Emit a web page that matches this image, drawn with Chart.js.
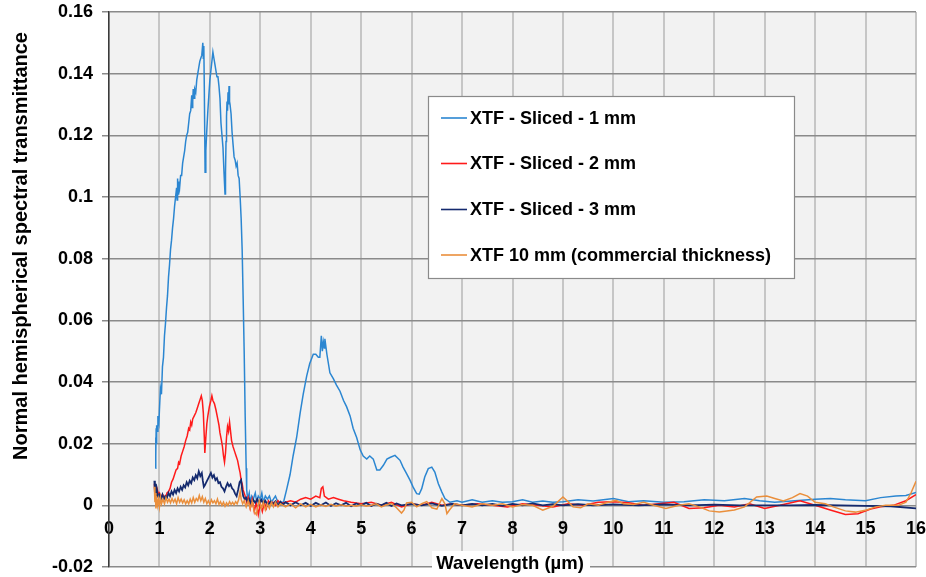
<!DOCTYPE html>
<html>
<head>
<meta charset="utf-8">
<script src="https://cdn.jsdelivr.net/npm/chart.js@4.4.1/dist/chart.umd.min.js"></script>
<style>
  body { margin: 0; background: #fff; }
  #chart { display: block; }
</style>
</head>
<body>
<canvas id="chart" width="926" height="577"></canvas>
<script>
// 数据：[波长 µm, 透射率]
const seriesLabels = [
  'XTF - Sliced - 1 mm',
  'XTF - Sliced - 2 mm',
  'XTF - Sliced - 3 mm',
  'XTF 10 mm (commercial thickness)'
];
const seriesColors = ['#2b86d1', '#ff1a1a', '#142a6e', '#ea8f3c'];

const sliced1mm = [
  [0.92,0.012],[0.925,0.022],[0.93,0.016],[0.935,0.025],[0.94,0.020],[0.95,0.026],[0.96,0.024],[0.97,0.029],
  [0.99,0.027],[1.00,0.031],[1.02,0.038],[1.04,0.036],[1.06,0.045],[1.08,0.048],[1.10,0.055],[1.12,0.059],
  [1.14,0.064],[1.16,0.068],[1.18,0.074],[1.20,0.078],[1.22,0.083],[1.24,0.086],[1.26,0.090],[1.28,0.093],
  [1.30,0.097],[1.32,0.100],[1.34,0.103],[1.35,0.099],[1.36,0.106],[1.37,0.101],[1.38,0.105],[1.40,0.103],
  [1.42,0.107],[1.44,0.107],[1.46,0.111],[1.48,0.113],[1.50,0.115],[1.52,0.118],[1.54,0.120],[1.56,0.121],
  [1.58,0.124],[1.60,0.127],[1.62,0.128],[1.64,0.133],[1.65,0.129],[1.66,0.131],[1.67,0.135],[1.69,0.132],
  [1.70,0.135],[1.72,0.134],[1.74,0.138],[1.76,0.140],[1.78,0.142],[1.80,0.144],[1.82,0.145],[1.84,0.146],
  [1.86,0.150],[1.87,0.145],[1.88,0.149],[1.89,0.135],[1.905,0.108],[1.92,0.115],[1.94,0.122],[1.96,0.128],
  [1.98,0.133],[2.00,0.138],[2.02,0.141],[2.04,0.144],[2.06,0.147],[2.08,0.145],[2.10,0.143],[2.12,0.141],
  [2.14,0.139],[2.16,0.139],[2.18,0.136],[2.20,0.132],[2.22,0.124],[2.24,0.120],[2.26,0.116],[2.28,0.108],
  [2.30,0.101],[2.31,0.108],[2.32,0.118],[2.33,0.126],[2.34,0.131],[2.35,0.128],[2.36,0.134],[2.37,0.130],
  [2.38,0.136],[2.39,0.131],[2.40,0.130],[2.42,0.127],[2.44,0.121],[2.46,0.117],[2.48,0.113],[2.50,0.112],
  [2.52,0.110],[2.54,0.111],[2.56,0.107],[2.58,0.106],[2.60,0.100],[2.62,0.093],[2.64,0.083],[2.66,0.067],
  [2.68,0.050],[2.70,0.029],[2.72,0.012],[2.73,0.005],[2.75,0.002],[2.78,0.004],[2.80,0.001],[2.83,0.003],
  [2.86,0.002],[2.90,0.004],[2.93,0.001],[2.96,0.003],[3.00,0.002],[3.03,0.004],[3.06,0.001],[3.10,0.003],
  [3.14,0.002],[3.18,0.003],[3.22,0.001],[3.26,0.002],[3.30,0.003],[3.35,0.001],[3.40,0.001],[3.46,0.001],
  [3.52,0.005],[3.59,0.010],[3.65,0.016],[3.72,0.022],[3.79,0.030],[3.85,0.036],[3.92,0.042],[3.98,0.046],
  [4.05,0.049],[4.10,0.049],[4.15,0.048],[4.18,0.048],[4.21,0.055],[4.23,0.050],[4.25,0.053],[4.27,0.051],
  [4.28,0.054],[4.32,0.049],[4.38,0.043],[4.45,0.041],[4.51,0.039],[4.58,0.037],[4.65,0.034],[4.71,0.032],
  [4.78,0.029],[4.84,0.025],[4.91,0.022],[4.98,0.018],[5.04,0.016],[5.11,0.015],[5.17,0.016],[5.24,0.015],
  [5.31,0.0115],[5.37,0.0115],[5.44,0.013],[5.51,0.015],[5.57,0.0155],[5.67,0.0162],[5.77,0.0146],[5.83,0.0124],
  [5.90,0.0103],[5.97,0.0081],[6.03,0.0059],[6.10,0.0038],[6.15,0.0036],[6.20,0.0054],[6.26,0.0092],[6.33,0.0119],
  [6.40,0.0124],[6.46,0.0108],[6.53,0.007],[6.60,0.0043],[6.66,0.0022],[6.76,0.001],[6.9,0.0015],[7.0,0.001],
  [7.2,0.0018],[7.4,0.001],[7.6,0.0015],[7.8,0.001],[8.0,0.0012],[8.2,0.0018],[8.4,0.001],[8.6,0.0014],
  [8.8,0.001],[9.0,0.0012],[9.3,0.0018],[9.6,0.0014],[10.0,0.0022],[10.3,0.0012],[10.6,0.0015],[11.0,0.001],
  [11.4,0.0012],[11.8,0.0018],[12.2,0.0015],[12.6,0.0022],[12.9,0.0015],[13.2,0.001],[13.6,0.0015],[14.0,0.002],
  [14.3,0.0022],[14.6,0.0018],[15.0,0.0015],[15.3,0.0025],[15.6,0.003],[15.8,0.0032],[16.0,0.0042]
];

const sliced2mm = [
  [0.90,0.007],[0.91,0.004],[0.92,0.006],[0.94,0.003],[0.96,0.005],[0.98,0.0035],[1.00,0.004],[1.03,0.0025],
  [1.06,0.0035],[1.09,0.003],[1.12,0.0025],[1.15,0.004],[1.18,0.0045],[1.21,0.0055],[1.24,0.0075],[1.27,0.0085],
  [1.30,0.010],[1.33,0.0115],[1.36,0.012],[1.38,0.014],[1.40,0.0135],[1.43,0.016],[1.46,0.0175],[1.49,0.019],
  [1.52,0.021],[1.55,0.0225],[1.58,0.025],[1.60,0.0245],[1.62,0.027],[1.64,0.026],[1.66,0.028],[1.69,0.029],
  [1.72,0.030],[1.75,0.0315],[1.78,0.033],[1.81,0.0345],[1.83,0.0355],[1.85,0.034],[1.87,0.030],[1.89,0.022],
  [1.90,0.017],[1.92,0.022],[1.94,0.0265],[1.96,0.029],[1.99,0.032],[2.02,0.034],[2.04,0.0355],[2.06,0.034],
  [2.09,0.033],[2.12,0.031],[2.15,0.0285],[2.18,0.026],[2.20,0.0235],[2.23,0.021],[2.25,0.019],[2.27,0.016],
  [2.29,0.014],[2.31,0.017],[2.33,0.022],[2.35,0.0255],[2.37,0.024],[2.39,0.027],[2.41,0.024],[2.43,0.021],
  [2.46,0.019],[2.49,0.0175],[2.52,0.016],[2.55,0.0145],[2.58,0.012],[2.60,0.0105],[2.62,0.008],[2.64,0.007],
  [2.66,0.005],[2.70,0.003],[2.73,0.001],[2.76,0.0025],[2.80,-0.001],[2.84,0.002],[2.88,-0.002],[2.92,0.001],
  [2.96,-0.003],[3.00,0.0005],[3.04,-0.002],[3.08,0.001],[3.12,-0.001],[3.16,0.0015],[3.20,0.0005],[3.25,0.001],
  [3.30,0],[3.35,0.0015],[3.40,0.0005],[3.50,0.001],[3.60,0.0015],[3.70,0.001],[3.80,0.002],[3.90,0.0025],
  [4.00,0.002],[4.10,0.003],[4.18,0.0025],[4.21,0.0055],[4.24,0.006],[4.27,0.003],[4.35,0.002],[4.45,0.0025],
  [4.55,0.002],[4.65,0.0015],[4.80,0.001],[5.00,0.0005],[5.20,0.001],[5.40,0],[5.60,0.001],[5.80,-0.0005],
  [6.00,0.0005],[6.20,0],[6.40,0.001],[6.60,0],[6.80,0.0005],[7.0,0],[7.3,0.0005],[7.6,0],
  [7.9,-0.0005],[8.2,0.0005],[8.5,0],[8.8,-0.0005],[9.1,0.0005],[9.4,0],[9.7,0.001],[10.0,0.0012],
  [10.3,0.0008],[10.6,0],[10.9,0.0005],[11.2,0.001],[11.5,-0.001],[11.8,-0.0008],[12.1,0],[12.4,-0.0005],
  [12.7,0.0005],[13.0,-0.001],[13.3,0],[13.7,0.0015],[14.0,0],[14.3,-0.0015],[14.6,-0.003],[14.85,-0.0027],
  [15.1,-0.0012],[15.3,-0.0005],[15.55,0],[15.8,0.0015],[16.0,0.0035]
];

const sliced3mm = [
  [0.90,0.008],[0.91,0.004],[0.92,0.007],[0.93,0.003],[0.95,0.005],[0.97,0.003],[1.00,0.0035],[1.03,0.002],
  [1.06,0.0035],[1.09,0.002],[1.12,0.003],[1.15,0.0025],[1.18,0.004],[1.21,0.003],[1.24,0.0045],[1.27,0.0035],
  [1.30,0.005],[1.33,0.004],[1.36,0.0055],[1.39,0.0045],[1.42,0.006],[1.45,0.005],[1.48,0.0065],[1.51,0.0058],
  [1.54,0.0075],[1.57,0.0065],[1.60,0.008],[1.63,0.0072],[1.66,0.009],[1.69,0.0082],[1.72,0.0098],[1.75,0.0088],
  [1.78,0.011],[1.81,0.0095],[1.84,0.0105],[1.86,0.008],[1.88,0.006],[1.90,0.0065],[1.93,0.0075],[1.96,0.0085],
  [1.99,0.0095],[2.02,0.0105],[2.05,0.009],[2.08,0.0098],[2.11,0.0082],[2.14,0.0088],[2.17,0.0072],[2.20,0.0075],
  [2.23,0.006],[2.26,0.0055],[2.29,0.0045],[2.32,0.006],[2.35,0.0072],[2.38,0.0062],[2.41,0.0068],[2.44,0.0055],
  [2.47,0.005],[2.50,0.0038],[2.53,0.003],[2.56,0.005],[2.59,0.0075],[2.62,0.0082],[2.64,0.005],[2.66,0.003],
  [2.69,0.002],[2.72,0.0025],[2.75,0.001],[2.78,0.002],[2.82,0.0005],[2.86,0.0018],[2.90,0.0008],[2.94,0.002],
  [2.98,0.0005],[3.02,0.0018],[3.06,0.0005],[3.10,0.0015],[3.15,0],[3.20,0.0012],[3.25,0.0003],[3.30,0.0013],
  [3.35,0],[3.40,0.0012],[3.45,0.0002],[3.5,0.001],[3.6,0],[3.7,0.001],[3.8,0],[3.9,0.0008],
  [4.0,-0.0002],[4.1,0.0008],[4.2,0],[4.3,0.0009],[4.4,-0.0002],[4.5,0.0007],[4.6,0],[4.7,0.0008],
  [4.8,-0.0003],[4.9,0.0006],[5.0,0],[5.1,0.0008],[5.2,-0.0002],[5.3,0.0005],[5.4,0],[5.5,0.0008],
  [5.6,-0.0002],[5.7,0.0006],[5.8,0],[6.0,0.0005],[6.2,0],[6.4,0.0006],[6.6,-0.0002],[6.8,0.0005],
  [7.0,0],[7.2,0.0005],[7.4,0],[7.6,0.0005],[7.8,-0.0002],[8.0,0.0005],[8.2,0],[8.4,0.0006],
  [8.6,0],[8.8,0.0004],[9.0,0],[9.3,0.0004],[9.6,0],[10,0.0003],[10.5,0],[11,0.0003],
  [11.5,0],[12,0.0002],[12.5,0],[13,0],[13.5,0],[14,0.0001],[14.5,0],[15,-0.0002],
  [15.5,-0.0003],[16,-0.001]
];

const commercial10mm = [
  [0.90,0.006],[0.91,0.001],[0.92,0.004],[0.93,-0.001],[0.94,0.003],[0.96,0.000],[0.98,0.002],[1.00,-0.0005],
  [1.02,0.0025],[1.04,0.0005],[1.07,0.002],[1.10,0.0005],[1.13,0.0025],[1.16,0.001],[1.19,0.002],[1.22,0.0008],
  [1.25,0.0022],[1.28,0.001],[1.31,0.002],[1.34,0.0005],[1.37,0.0025],[1.40,0.001],[1.43,0.002],[1.46,0.0008],
  [1.49,0.0018],[1.52,0.0005],[1.55,0.0015],[1.58,0.0005],[1.61,0.002],[1.64,0.0008],[1.67,0.0025],[1.70,0.001],
  [1.73,0.0022],[1.76,0.0015],[1.79,0.0032],[1.82,0.0015],[1.85,0.0028],[1.88,0.001],[1.91,0.0022],[1.94,0.0005],
  [1.97,0.0015],[2.00,0.0003],[2.03,0.0018],[2.06,0.0008],[2.09,0.0015],[2.12,0.0005],[2.15,0.002],[2.18,0.0003],
  [2.21,0.0012],[2.24,0],[2.27,0.001],[2.30,-0.0003],[2.33,0.0008],[2.36,0],[2.39,0.0012],[2.42,0.0003],
  [2.45,0.001],[2.48,0.0002],[2.51,0.0012],[2.54,0.0005],[2.57,0.0018],[2.60,0.0045],[2.62,0.002],[2.65,0.0005],
  [2.68,0.0015],[2.72,-0.0005],[2.76,0.0015],[2.80,-0.001],[2.84,0.0012],[2.88,-0.002],[2.92,-0.003],[2.95,-0.0005],
  [2.98,0.0015],[3.02,-0.001],[3.06,0.001],[3.10,-0.0015],[3.14,0.0005],[3.18,-0.001],[3.22,0.001],[3.26,-0.0005],
  [3.30,0.001],[3.35,-0.0005],[3.40,0.0005],[3.5,-0.0005],[3.6,0.0005],[3.7,-0.0008],[3.8,0.0005],[3.9,-0.0005],
  [4.0,0.0003],[4.1,-0.0005],[4.2,0.0002],[4.3,-0.0004],[4.4,0.0003],[4.5,-0.0003],[4.6,0.0002],[4.7,-0.0003],
  [4.8,0],[4.9,-0.0003],[5.0,0.0002],[5.1,-0.0003],[5.2,0],[5.3,0.0005],[5.4,-0.0005],[5.5,0.0002],
  [5.6,0.0006],[5.7,-0.0008],[5.8,-0.0025],[5.85,-0.0015],[5.9,0.0008],[6.0,0.001],[6.1,-0.0005],[6.2,0.0005],
  [6.3,0.0012],[6.4,-0.0008],[6.5,-0.0012],[6.6,0.0022],[6.66,0.0005],[6.7,-0.0027],[6.75,-0.0015],[6.85,0.0005],
  [7.0,0],[7.2,-0.0005],[7.4,0.0005],[7.6,0],[7.8,0.0005],[8.0,-0.0005],[8.2,0.0003],[8.4,0],
  [8.6,-0.0016],[8.8,-0.0003],[9.0,0.0027],[9.1,0.0012],[9.2,-0.0005],[9.35,-0.0008],[9.5,0.0005],[9.7,0],
  [9.9,0.001],[10.05,0.0016],[10.2,0.0005],[10.4,0.0003],[10.6,0.001],[10.8,0],[11.04,-0.001],[11.3,0],
  [11.5,0.0005],[11.7,-0.0005],[11.9,-0.0018],[12.1,-0.0022],[12.4,-0.0015],[12.6,-0.0005],[12.84,0.0027],[13.04,0.003],
  [13.2,0.0022],[13.37,0.0014],[13.55,0.0025],[13.7,0.0038],[13.85,0.003],[14.0,0.001],[14.2,0.0005],[14.36,-0.0005],
  [14.6,-0.0018],[14.8,-0.0022],[15.02,-0.0015],[15.2,-0.0005],[15.4,0],[15.65,0],[15.8,0.001],[15.9,0.004],
  [16.0,0.0078]
];

const seriesData = [sliced1mm, sliced2mm, sliced3mm, commercial10mm];

// 坐标轴刻度
const xTicks = [0, 16, 1];          // min, max, step
const yTicks = [-0.02, 0.16, 0.02]; // min, max, step

const FONT = '"Liberation Sans", Arial, sans-serif';

// 绘图区背景
const plotBackground = {
  id: 'plotBackground',
  beforeDraw(chart) {
    const { ctx, chartArea: a } = chart;
    ctx.save();
    ctx.fillStyle = '#f2f2f2';
    ctx.fillRect(a.left, a.top, a.right - a.left, a.bottom - a.top);
    ctx.restore();
  }
};

// 图例和坐标轴标题
const overlay = {
  id: 'overlay',
  afterDraw(chart) {
    const ctx = chart.ctx;
    ctx.save();

    // 图例
    ctx.fillStyle = '#ffffff';
    ctx.fillRect(428.5, 96.5, 366, 182);
    ctx.strokeStyle = '#8a8a8a';
    ctx.lineWidth = 1.2;
    ctx.strokeRect(428.5, 96.5, 366, 182);
    const rows = [118, 163.5, 209.5, 255];
    ctx.font = 'bold 18px ' + FONT;
    ctx.textBaseline = 'middle';
    ctx.textAlign = 'left';
    chart.data.datasets.forEach((ds, i) => {
      ctx.strokeStyle = ds.borderColor;
      ctx.lineWidth = 1.6;
      ctx.beginPath();
      ctx.moveTo(441, rows[i]);
      ctx.lineTo(467, rows[i]);
      ctx.stroke();
      ctx.fillStyle = '#000';
      ctx.fillText(ds.label, 470, rows[i] + 1);
    });

    // x 轴标题
    ctx.fillStyle = '#ffffff';
    ctx.fillRect(432, 551, 158, 26);
    ctx.fillStyle = '#000';
    ctx.textAlign = 'center';
    ctx.font = 'bold 18.5px ' + FONT;
    ctx.fillText('Wavelength (µm)', 510, 564);

    // y 轴标题
    ctx.font = 'bold 20px ' + FONT;
    ctx.translate(21, 246);
    ctx.rotate(-Math.PI / 2);
    ctx.fillText('Normal hemispherical spectral transmittance', 0, 0);
    ctx.restore();
  }
};

document.addEventListener('DOMContentLoaded', () => {
  const ctx = document.getElementById('chart').getContext('2d');
  new Chart(ctx, {
    type: 'line',
    data: {
      datasets: seriesData.map((d, i) => ({
        label: seriesLabels[i],
        data: d,
        borderColor: seriesColors[i],
        borderWidth: i === 2 ? 1.8 : 1.5,
        pointRadius: 0,
        tension: 0,
        fill: false,
        order: 4 - i
      }))
    },
    options: {
      responsive: false,
      animation: false,
      layout: { padding: { left: 0, top: 12, right: 10, bottom: 10 } },
      plugins: { legend: { display: false }, tooltip: { enabled: false } },
      scales: {
        x: {
          type: 'linear',
          position: { y: 0 },
          min: xTicks[0],
          max: xTicks[1],
          afterFit: s => { s.paddingLeft = 0; s.paddingRight = 0; },
          ticks: {
            stepSize: xTicks[2],
            color: '#000',
            font: { family: FONT, size: 18, weight: 'bold' },
            padding: 13,
            maxRotation: 0,
            autoSkip: false
          },
          grid: { color: '#c6c6c6', lineWidth: 2, drawTicks: false },
          border: { display: false }
        },
        y: {
          min: yTicks[0],
          max: yTicks[1],
          afterFit: s => { s.width = 109; s.paddingTop = 0; s.paddingBottom = 0; },
          ticks: {
            stepSize: yTicks[2],
            color: '#000',
            font: { family: FONT, size: 18, weight: 'bold' },
            padding: 9,
            callback: v => String(parseFloat(Number(v).toFixed(2)))
          },
          grid: { color: '#8a8a8a', lineWidth: 1.5, tickLength: 7 },
          border: { color: '#3a3a3a', width: 1.5 }
        }
      }
    },
    plugins: [plotBackground, overlay]
  });
});
</script>
</body>
</html>
